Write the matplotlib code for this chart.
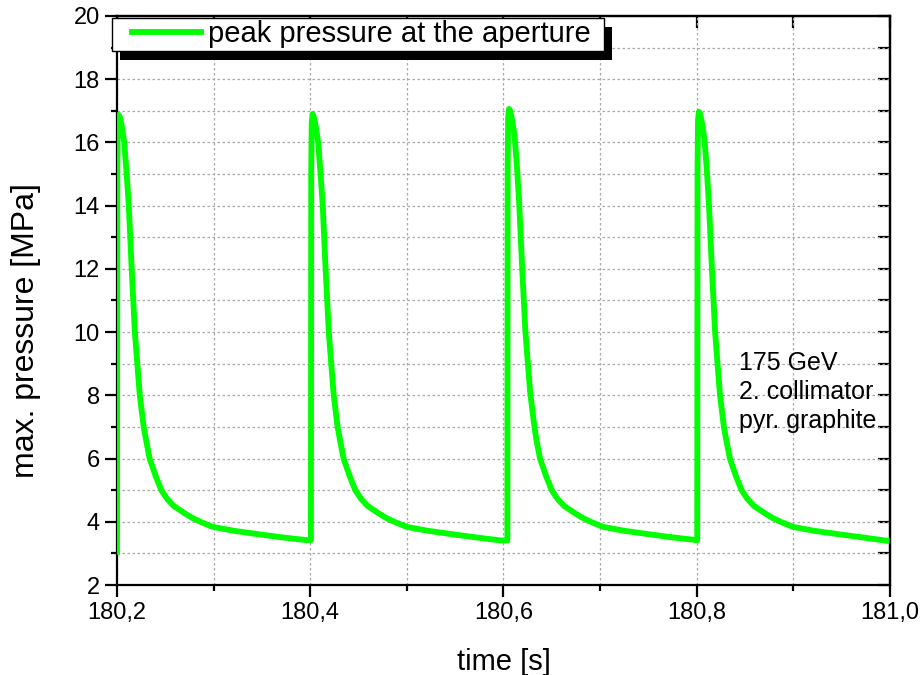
import numpy as np
import matplotlib
matplotlib.use("Agg")
import matplotlib.pyplot as plt
from matplotlib.patches import Rectangle
from matplotlib.ticker import MultipleLocator, FixedLocator, FixedFormatter

plt.rcParams['font.family'] = ['Liberation Sans', 'DejaVu Sans']

# ---- data ----
pulse_starts = [180.2000, 180.4007, 180.6040, 180.8005]
pulse_dt = [0.0, 0.0003, 0.0008, 0.0017, 0.0030, 0.0050, 0.0075, 0.0100, 0.0122,
            0.0152, 0.0185, 0.0210, 0.0236, 0.0276, 0.0300, 0.0338, 0.0400, 0.0459,
            0.0520, 0.0587, 0.0700, 0.0780, 0.0863, 0.0990, 0.1200, 0.1430, 0.1700,
            0.1960]
pulse1 = [3.05, 15.0, 16.6, 16.87, 16.8, 16.5, 16.0, 15.0, 14.0, 12.0, 10.0, 9.0, 8.0,
          7.0, 6.6, 6.0, 5.45, 5.0, 4.72, 4.5, 4.27, 4.12, 4.0, 3.84, 3.72, 3.62, 3.51, 3.42]
pulse2 = [3.42, 15.0, 16.6, 16.90, 16.8, 16.5, 16.0, 15.0, 14.0, 12.0, 10.0, 9.0, 8.0,
          7.0, 6.6, 6.0, 5.45, 5.0, 4.72, 4.5, 4.27, 4.12, 4.0, 3.84, 3.72, 3.62, 3.51, 3.41]
pulse3 = [3.41, 15.2, 16.8, 17.06, 17.0, 16.7, 16.2, 15.2, 14.1, 12.1, 10.1, 9.1, 8.1,
          7.1, 6.6, 6.0, 5.45, 5.0, 4.72, 4.5, 4.27, 4.12, 4.0, 3.84, 3.72, 3.62, 3.51, 3.42]
pulse4 = [3.42, 15.1, 16.7, 16.97, 16.9, 16.6, 16.1, 15.1, 14.0, 12.0, 10.0, 9.0, 8.0,
          7.0, 6.6, 6.0, 5.45, 5.0, 4.72, 4.5, 4.27, 4.12, 4.0, 3.84, 3.72, 3.62, 3.51, 3.40]
pulse_values = [pulse1, pulse2, pulse3, pulse4]

x_ticks = [180.2, 180.4, 180.6, 180.8, 181.0]
x_tick_labels = ['180,2', '180,4', '180,6', '180,8', '181,0']
y_ticks = [2, 4, 6, 8, 10, 12, 14, 16, 18, 20]

series_label = 'peak pressure at the aperture'
note_text = '175 GeV\n2. collimator\npyr. graphite'

# ---- build series ----
t = []
p = []
for s, vals in zip(pulse_starts, pulse_values):
    t.extend([s + d for d in pulse_dt])
    p.extend(vals)

fig = plt.figure(figsize=(9.23, 6.75), dpi=100)
ax = fig.add_axes([117/923, 90/675, 773/923, 569/675])

line, = ax.plot(t, p, color='#00ff00', lw=4.2, solid_joinstyle='round',
                label=series_label, zorder=3)

ax.set_xlim(180.2, 181.0)
ax.set_ylim(2, 20)
ax.xaxis.set_major_locator(FixedLocator(x_ticks))
ax.xaxis.set_major_formatter(FixedFormatter(x_tick_labels))
ax.xaxis.set_minor_locator(MultipleLocator(0.1))
ax.yaxis.set_major_locator(FixedLocator(y_ticks))
ax.yaxis.set_minor_locator(MultipleLocator(1))

ax.grid(which='both', color='#a8a8a8', linestyle=(0, (2, 2)), linewidth=0.9, zorder=0)
ax.set_axisbelow(True)

for sp in ax.spines.values():
    sp.set_linewidth(1.6)
ax.tick_params(which='major', direction='out', length=8.5, width=1.6, labelsize=17,
               top=False, right=False, pad=4)
ax.tick_params(which='minor', direction='out', length=4.0, width=1.6,
               top=False, right=False)

sec_r = ax.secondary_yaxis('right')
sec_r.set_yticks(np.arange(2, 21, 1))
sec_r.tick_params(direction='in', length=8.5, width=1.6, labelright=False)
sec_r.spines['right'].set_linewidth(1.6)

sec_t = ax.secondary_xaxis('top')
sec_t.set_xticks(np.arange(180.2, 181.05, 0.1))
sec_t.tick_params(direction='in', length=8.5, width=1.6, labeltop=False)
sec_t.spines['top'].set_linewidth(1.6)

ax.set_xlabel('time [s]', fontsize=21)
ax.xaxis.set_label_coords(0.5, -(662 - 585) / 569)
ax.xaxis.label.set_va('center')
ax.set_ylabel('max. pressure [MPa]', fontsize=23)
ax.yaxis.set_label_coords(-(117 - 26) / 773, (585 - 331) / 569)
ax.yaxis.label.set_va('center')

ax.text(0.805, 0.339, note_text, transform=ax.transAxes, fontsize=18,
        ha='left', va='center', linespacing=1.25)

leg = ax.legend(handles=[line], loc='upper left', bbox_to_anchor=(132/923, 1 - 20/675),
                bbox_transform=fig.transFigure, fontsize=21, frameon=False,
                borderaxespad=0, borderpad=0.0, handlelength=2.35, handletextpad=0.25)
leg.set_zorder(7)

fig.canvas.draw()
bb = leg.get_window_extent()
bx0, bx1 = bb.x0 - 20, bb.x1 + 13
by0, by1 = bb.y0 - 3, bb.y1 + 2
box = Rectangle((bx0, by0), bx1 - bx0, by1 - by0, transform=None,
                facecolor='white', edgecolor='black', linewidth=1.0,
                clip_on=False, zorder=6)
shadow = Rectangle((bx0 + 8, by0 - 9), bx1 - bx0, by1 - by0, transform=None,
                   facecolor='black', edgecolor='none', clip_on=False, zorder=5.5)
ax.add_patch(shadow)
ax.add_patch(box)

fig.savefig('out.png', dpi=100)
